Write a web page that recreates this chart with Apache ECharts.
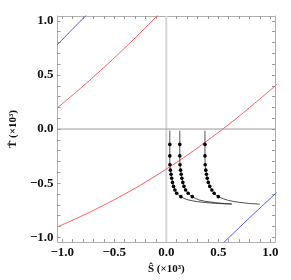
<!DOCTYPE html>
<html><head><meta charset="utf-8">
<script src="https://cdn.jsdelivr.net/npm/echarts@6/dist/echarts.min.js"></script>
<style>html,body{margin:0;padding:0;background:#fff}#c{width:291px;height:280px}</style>
</head><body><div id="c"></div>
<script>
// Axis ticks and labels
var tickValues = [-1, -0.5, 0, 0.5, 1];
var tickLabels = ['\u22121.0', '\u22120.5', '0.0', '0.5', '1.0'];
var minorTickValues = [-1,-0.9,-0.8,-0.7,-0.6,-0.5,-0.4,-0.3,-0.2,-0.1,0,0.1,0.2,0.3,0.4,0.5,0.6,0.7,0.8,0.9,1];
var axisMin = -1.045;
var axisMax = 1.045;

// Red curves (S, T)
var redUpperS = [-1.06, -0.8, -0.6, -0.4, -0.2, -0.06];
var redUpperT = [0.185, 0.397, 0.569, 0.749, 0.937, 1.075];
var redLowerS = [-1.06, -0.8, -0.6, -0.4, -0.2, 0, 0.2, 0.4, 0.6, 0.8, 1.06];
var redLowerT = [-0.91, -0.798, -0.703, -0.601, -0.49, -0.37, -0.242, -0.103, 0.043, 0.198, 0.41];

// Blue lines
var blueUpperS = [-1.06, -0.9, -0.75];
var blueUpperT = [0.767, 0.925, 1.07];
var blueLowerS = [0.54, 0.8, 1.06];
var blueLowerT = [-1.06, -0.82, -0.587];

// Black trajectories: dots
var dotT = [-0.142, -0.248, -0.33, -0.38, -0.418, -0.455, -0.493, -0.53, -0.563, -0.593, -0.625];
var dotA = [0.034, 0.034, 0.035, 0.04, 0.046, 0.052, 0.06, 0.07, 0.083, 0.1, 0.14];
var dotB = [0.13, 0.13, 0.132, 0.137, 0.143, 0.15, 0.159, 0.17, 0.186, 0.21, 0.25];
var dotC = [0.372, 0.372, 0.374, 0.38, 0.386, 0.394, 0.404, 0.418, 0.438, 0.46, 0.5];
// Black trajectories: start and tails
var startT = -0.015;
var tailA_S = [0.2, 0.3, 0.45, 0.63];
var tailA_T = [-0.652, -0.671, -0.685, -0.694];
var tailB_S = [0.32, 0.42, 0.53, 0.63];
var tailB_T = [-0.657, -0.674, -0.686, -0.692];
var tailC_S = [0.6, 0.7, 0.8, 0.9];
var tailC_T = [-0.66, -0.677, -0.688, -0.694];

// Zero reference lines
var zeroVS = [0, 0];
var zeroVT = [axisMin, axisMax];
var zeroHS = [axisMin, axisMax];
var zeroHT = [0, 0];

function zip(a, b) { return a.map(function (v, i) { return [v, b[i]]; }); }
function traj(dx, tS, tT) {
  return [[dx[0], startT]].concat(zip(dx, dotT)).concat(zip(tS, tT));
}

var font = 'Liberation Serif';
var frame = '#b0b0b0';
function labelFmt(v) {
  for (var i = 0; i < tickValues.length; i++) if (Math.abs(tickValues[i] - v) < 1e-9) return tickLabels[i];
  return '';
}
function mkAxis(pos, isX, showLabel, name) {
  var a = {
    type: 'value', min: axisMin, max: axisMax, position: pos,
    axisLine: { show: true, onZero: false, lineStyle: { color: frame, width: 1 } },
    axisTick: { show: true, inside: true, length: 3, customValues: minorTickValues, lineStyle: { color: '#999' } },
    axisLabel: { show: showLabel, customValues: tickValues, formatter: labelFmt, margin: 4,
      fontFamily: font, fontWeight: 'bold', fontSize: 13, color: '#111' },
    splitLine: { show: false }
  };
  if (name) {
    a.name = name; a.nameLocation = 'middle';
    a.nameTextStyle = { fontFamily: font, fontWeight: 'bold', fontSize: 11, color: '#111' };
    a.nameGap = isX ? 15 : 30;
  }
  return a;
}

function lineSeries(data, color, width, smooth, z) {
  return { type: 'line', data: data, showSymbol: false, smooth: smooth || false, silent: true,
    itemStyle: { color: color }, lineStyle: { color: color, width: width }, z: z || 3 };
}
var option = {
  animation: false,
  grid: { left: 45, right: 16, top: 16, bottom: 34 },
  xAxis: [mkAxis('bottom', true, true, '\u015C (\u00D710\u00B3)'), mkAxis('top', true, false)],
  yAxis: [mkAxis('left', false, true, 'T\u0302 (\u00D710\u00B3)'), mkAxis('right', false, false)],
  series: [
    lineSeries(zip(zeroVS, zeroVT), '#d4d4d4', 2, false, 1),
    lineSeries(zip(zeroHS, zeroHT), '#9a9a9a', 1, false, 1),
    lineSeries(zip(redUpperS, redUpperT), '#ff5a5a', 1, true),
    lineSeries(zip(redLowerS, redLowerT), '#ff5a5a', 1, true),
    lineSeries(zip(blueUpperS, blueUpperT), '#5a5aff', 1, false),
    lineSeries(zip(blueLowerS, blueLowerT), '#5a5aff', 1, false),
    lineSeries(traj(dotA, tailA_S, tailA_T), '#222', 0.8, 0.3),
    lineSeries(traj(dotB, tailB_S, tailB_T), '#222', 0.8, 0.3),
    lineSeries(traj(dotC, tailC_S, tailC_T), '#222', 0.8, 0.3),
    { type: 'scatter', z: 4, silent: true, data: zip(dotA, dotT).concat(zip(dotB, dotT)).concat(zip(dotC, dotT)),
      symbol: 'circle', symbolSize: 3.6, itemStyle: { color: '#000', opacity: 1 } }
  ]
};
echarts.init(document.getElementById('c'), null, { renderer: 'canvas' }).setOption(option);
</script></body></html>
